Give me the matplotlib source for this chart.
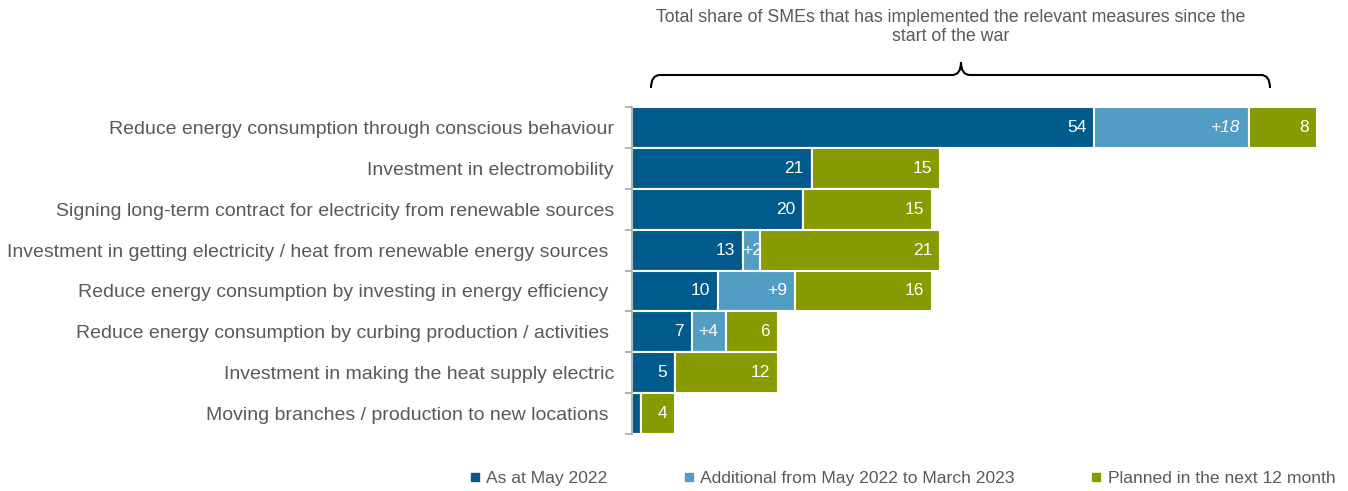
import matplotlib.pyplot as plt
from matplotlib.path import Path
from matplotlib.patches import PathPatch
from matplotlib.lines import Line2D

plt.rcParams['font.family'] = ['Liberation Sans', 'DejaVu Sans']

# measures, top to bottom (some labels carry a trailing space)
measures = [
    'Reduce energy consumption through conscious behaviour',
    'Investment in electromobility',
    'Signing long-term contract for electricity from renewable sources',
    'Investment in getting electricity / heat from renewable energy sources ',
    'Reduce energy consumption by investing in energy efficiency ',
    'Reduce energy consumption by curbing production / activities ',
    'Investment in making the heat supply electric',
    'Moving branches / production to new locations ',
]
asAtMay = [54, 21, 20, 13, 10, 7, 5, 1]
additional = [18, 0, 0, 2, 9, 4, 0, 0]
planned = [8, 15, 15, 21, 16, 6, 12, 4]
seriesNames = ['As at May 2022', 'Additional from May 2022 to March 2023',
               'Planned in the next 12 month']

darkBlue = '#005a8c'
lightBlue = '#529dc4'
olive = '#879a00'
grey = '#595959'

W, H = 1348, 491
fig = plt.figure(figsize=(W / 100, H / 100), dpi=100)
ax = fig.add_axes([632 / W, 1 - 434 / H, (1317 - 632) / W, (434 - 107) / H])

y = list(range(len(measures)))
left2 = asAtMay
left3 = [a + b for a, b in zip(asAtMay, additional)]

b1 = ax.barh(y, asAtMay, height=1.0, color=darkBlue, edgecolor='white', linewidth=1.5)
b2 = ax.barh(y, additional, left=left2, height=1.0, color=lightBlue, edgecolor='white', linewidth=1.5)
b3 = ax.barh(y, planned, left=left3, height=1.0, color=olive, edgecolor='white', linewidth=1.5)

ax.set_xlim(0, 80)
ax.set_ylim(len(measures) - 0.5, -0.5)

def addLabels(bars, values, prefix='', italicAt=()):
    for i, (bar, v) in enumerate(zip(bars, values)):
        if v < 2:
            continue
        xEnd = bar.get_x() + bar.get_width()
        yc = bar.get_y() + bar.get_height() / 2
        style = 'italic' if i in italicAt else 'normal'
        if v <= 2:
            ax.text(bar.get_x() + bar.get_width() / 2, yc, f'{prefix}{v}',
                    ha='center', va='center', color='white', fontsize=12.5, fontstyle=style)
        else:
            ax.annotate(f'{prefix}{v}', (xEnd, yc), xytext=(-8, 0),
                        textcoords='offset pixels', ha='right', va='center',
                        color='white', fontsize=12.5, fontstyle=style)

addLabels(b1, asAtMay)
addLabels(b2, additional, prefix='+', italicAt=(0,))
addLabels(b3, planned)

# axis styling: only the left spine with ticks between rows
for s in ['top', 'right', 'bottom']:
    ax.spines[s].set_visible(False)
ax.spines['left'].set_color('#a6a6a6')
ax.spines['left'].set_linewidth(1.2)
ax.set_xticks([])
ax.set_yticks(y)
ax.set_yticklabels(measures, fontsize=14.0, color=grey)
ax.tick_params(axis='y', which='major', length=0, pad=13)
ax.set_yticks([i - 0.5 for i in range(len(measures) + 1)], minor=True)
ax.tick_params(axis='y', which='minor', length=5, color='#a6a6a6', width=1.2)

# note and brace over the implemented share
fig.text(951 / W, 1 - 27 / H,
         'Total share of SMEs that has implemented the relevant measures since the\nstart of the war',
         ha='center', va='center', fontsize=12.8, color=grey, linespacing=1.15)

def px(xp, yp):
    return (xp / W, 1 - yp / H)

xl, xc, xr = 651, 961, 1270
yl, ye, yt = 75, 88, 62
verts = [px(xl, ye), px(xl, yl), px(xl + 9, yl),
         px(xc - 9, yl), px(xc, yl), px(xc, yt),
         px(xc, yl), px(xc + 9, yl),
         px(xr - 9, yl), px(xr, yl), px(xr, ye)]
codes = [Path.MOVETO, Path.CURVE3, Path.CURVE3,
         Path.LINETO, Path.CURVE3, Path.CURVE3,
         Path.CURVE3, Path.CURVE3,
         Path.LINETO, Path.CURVE3, Path.CURVE3]
fig.add_artist(PathPatch(Path(verts, codes), transform=fig.transFigure,
                         fill=False, edgecolor='black', linewidth=1.5))

handles = [Line2D([], [], marker='s', linestyle='none', markersize=6, color=c)
           for c in (darkBlue, lightBlue, olive)]
fig.legend(handles, seriesNames, loc='center', bbox_to_anchor=(903 / W, 1 - 478 / H),
           ncol=3, frameon=False, fontsize=12.6, labelcolor=grey,
           handlelength=0.5, handletextpad=0.4, columnspacing=4.4)

fig.savefig('out.png', dpi=100)
